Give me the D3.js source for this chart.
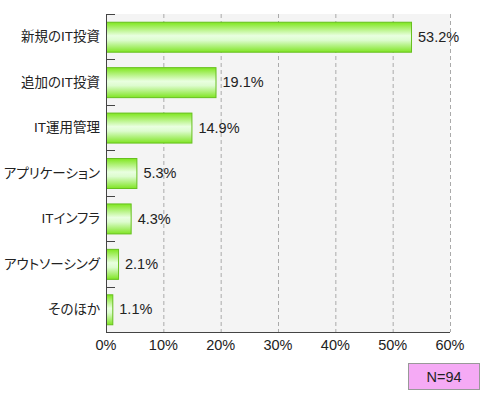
<!DOCTYPE html>
<html><head><meta charset="utf-8">
<script src="https://cdn.jsdelivr.net/npm/d3@7/dist/d3.min.js"></script>
<style>body{margin:0;background:#fff;}svg{display:block;}text{font-family:"Liberation Sans","Noto Sans CJK JP",sans-serif;}.cat{font-feature-settings:"palt";}</style>
</head><body>
<script>
const categories = ["新規のIT投資","追加のIT投資","IT運用管理","アプリケーション","ITインフラ","アウトソーシング","そのほか"];
const values = [53.2, 19.1, 14.9, 5.3, 4.3, 2.1, 1.1];
const tickValues = [0,10,20,30,40,50,60];
const note = "N=94";

const W=490,H=400;
const svg=d3.select("body").append("svg").attr("width",W).attr("height",H);
const L=106,R=450,T=14,B=332;
const x=d3.scaleLinear().domain([0,60]).range([L,R]);
const y=d3.scaleBand().domain(categories).range([T,B]).paddingInner(0.34).paddingOuter(0.17);

const defs=svg.append("defs");
const g=defs.append("linearGradient").attr("id","bg").attr("x1",0).attr("y1",0).attr("x2",0).attr("y2",1);
g.append("stop").attr("offset","0%").attr("stop-color","#7fe61e");
g.append("stop").attr("offset","45%").attr("stop-color","#e9ffe0");
g.append("stop").attr("offset","60%").attr("stop-color","#ddfccf");
g.append("stop").attr("offset","100%").attr("stop-color","#80e524");

svg.append("rect").attr("x",L).attr("y",T).attr("width",R-L).attr("height",B-T).attr("fill","#f4f4f4");

svg.append("g").selectAll("line").data(tickValues.slice(1)).join("line")
 .attr("x1",d=>x(d)+0.5).attr("x2",d=>x(d)+0.5).attr("y1",T).attr("y2",B)
 .attr("stroke","#aaa").attr("stroke-dasharray","4,3");

svg.append("g").selectAll("line").data(categories).join("line")
 .attr("x1",L).attr("x2",L+9)
 .attr("y1",(d,i)=>Math.round(T+i*(B-T)/categories.length)+0.5)
 .attr("y2",(d,i)=>Math.round(T+i*(B-T)/categories.length)+0.5)
 .attr("stroke","#444").attr("stroke-width",1);

svg.append("g").selectAll("rect").data(values).join("rect")
 .attr("x",x(0)+0.5).attr("y",(d,i)=>y(categories[i])+0.5)
 .attr("width",d=>x(d)-x(0)).attr("height",y.bandwidth())
 .attr("fill","url(#bg)").attr("stroke","#66c01e").attr("stroke-width",1);

svg.append("line").attr("x1",L+0.5).attr("x2",L+0.5).attr("y1",T).attr("y2",B).attr("stroke","#444");
svg.append("line").attr("x1",L).attr("x2",R).attr("y1",B+0.5).attr("y2",B+0.5).attr("stroke","#444");

svg.append("g").selectAll("text").data(categories).join("text").attr("class","cat")
 .attr("x",L-6).attr("y",d=>y(d)+y.bandwidth()/2).attr("dy","0.35em")
 .attr("text-anchor","end").attr("font-size",13.5).attr("fill","#222").text(d=>d);

svg.append("g").selectAll("text").data(values).join("text")
 .attr("x",d=>x(d)+7).attr("y",(d,i)=>y(categories[i])+y.bandwidth()/2).attr("dy","0.35em")
 .attr("font-size",14.5).attr("fill","#222").text(d=>d.toFixed(1)+"%");

svg.append("g").selectAll("text").data(tickValues).join("text")
 .attr("x",d=>x(d)).attr("y",B+13).attr("dy","0.35em").attr("text-anchor","middle")
 .attr("font-size",14.5).attr("fill","#222").text(d=>d+"%");

svg.append("rect").attr("x",408.5).attr("y",363.5).attr("width",71).attr("height",26)
 .attr("fill","#f5aaf5").attr("stroke","#999");
svg.append("text").attr("x",444).attr("y",377).attr("dy","0.35em").attr("text-anchor","middle")
 .attr("font-size",14.5).attr("fill","#222").text(note);
</script>
</body></html>
